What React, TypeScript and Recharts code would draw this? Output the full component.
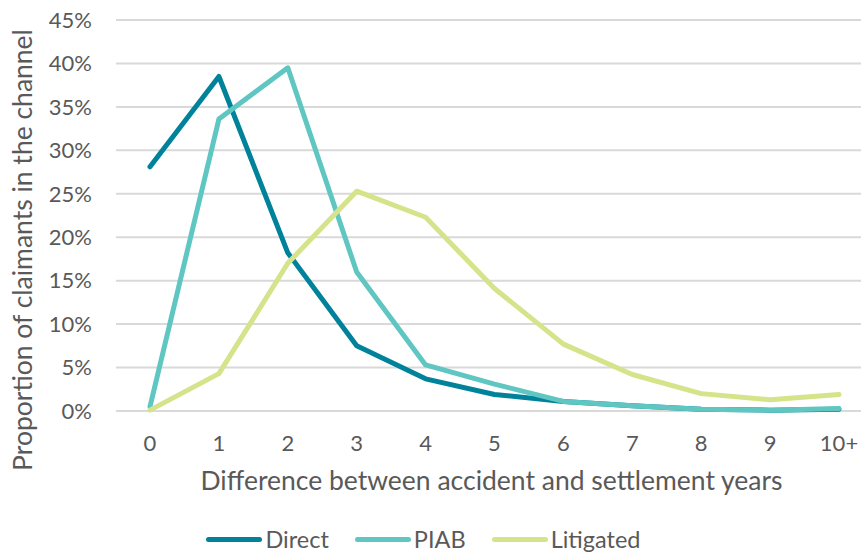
import React from 'react';
import { LineChart, Line, XAxis, YAxis, CartesianGrid, Legend, Label } from 'recharts';

const years = ['0', '1', '2', '3', '4', '5', '6', '7', '8', '9', '10+'];
const direct = [28.1, 38.5, 18.2, 7.5, 3.7, 1.9, 1.1, 0.6, 0.2, 0.1, 0.2];
const piab = [0.5, 33.6, 39.5, 16.0, 5.3, 3.1, 1.1, 0.6, 0.2, 0.1, 0.3];
const litigated = [0.1, 4.3, 17.0, 25.3, 22.3, 14.1, 7.7, 4.2, 2.0, 1.3, 1.9];
const yTicks = [0, 5, 10, 15, 20, 25, 30, 35, 40, 45];

const seriesInfo = [
  { key: 'direct', name: 'Direct', color: '#00829b' },
  { key: 'piab', name: 'PIAB', color: '#5fc6c1' },
  { key: 'litigated', name: 'Litigated', color: '#d5e48a' },
];

const data = years.map((year, i) => ({
  year,
  direct: direct[i],
  piab: piab[i],
  litigated: litigated[i],
}));

const FONT = 'Lato, "Open Sans", sans-serif';
const GREY = '#595959';

const LegendRow = () => (
  <div
    style={{
      display: 'flex',
      justifyContent: 'center',
      alignItems: 'center',
      height: 30,
      width: 861,
      paddingRight: 14,
      boxSizing: 'border-box',
      fontFamily: FONT,
      fontSize: 23.5,
      color: GREY,
    }}
  >
    {seriesInfo.map((s) => (
      <div key={s.key} style={{ display: 'flex', alignItems: 'center', margin: '0 13px' }}>
        <span
          style={{
            display: 'inline-block',
            width: 56,
            height: 5,
            borderRadius: 3,
            background: s.color,
            marginRight: 3,
          }}
        />
        <span>{s.name}</span>
      </div>
    ))}
  </div>
);

// axis titles drawn by hand so they sit where the original puts them
const XTitle = ({ viewBox }: any) => (
  <text
    x={viewBox.x + viewBox.width / 2 - 3}
    y={490}
    textAnchor="middle"
    fontFamily={FONT}
    fontSize={26.5}
    fill={GREY}
  >
    Difference between accident and settlement years
  </text>
);

const YTitle = () => (
  <text
    x={32}
    y={250}
    transform="rotate(-90, 32, 250)"
    textAnchor="middle"
    fontFamily={FONT}
    fontSize={26.5}
    fill={GREY}
  >
    Proportion of claimants in the channel
  </text>
);

export default function App() {
  return (
    <div style={{ position: 'absolute', left: 0, top: 0, width: 861, height: 554, overflow: 'hidden', background: '#fff' }}>
      <LineChart width={873} height={554} data={data} margin={{ top: 20, right: 0, bottom: 0, left: 0 }}>
        <CartesianGrid vertical={false} stroke="#d9d9d9" strokeWidth={2} />
        <XAxis
          dataKey="year"
          axisLine={false}
          tickLine={false}
          tickSize={0}
          tickMargin={24}
          height={113}
          padding={{ left: 34, right: 34 }}
          tick={{ fontFamily: FONT, fontSize: 22, fill: GREY }}
        >
          <Label content={XTitle} />
        </XAxis>
        <YAxis
          width={116}
          domain={[0, 45]}
          ticks={yTicks}
          axisLine={false}
          tickLine={false}
          tickSize={0}
          tickMargin={24}
          tickFormatter={(v) => `${v}%`}
          tick={{ fontFamily: FONT, fontSize: 22, fill: GREY }}
        >
          <Label content={YTitle} />
        </YAxis>
        <Legend verticalAlign="bottom" content={() => <LegendRow />} wrapperStyle={{ left: 0, width: 861 }} />
        {seriesInfo.map((s) => (
          <Line
            key={s.key}
            type="linear"
            dataKey={s.key}
            name={s.name}
            stroke={s.color}
            strokeWidth={5}
            strokeLinecap="round"
            strokeLinejoin="round"
            dot={false}
            activeDot={false}
            isAnimationActive={false}
          />
        ))}
      </LineChart>
    </div>
  );
}
